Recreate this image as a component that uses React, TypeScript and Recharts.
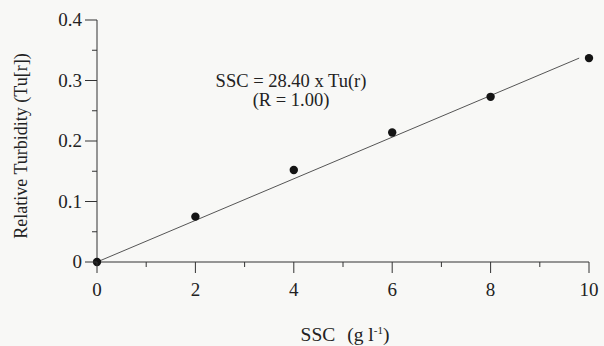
import { ScatterChart, Scatter, XAxis, YAxis } from 'recharts';

// calibration samples: suspended sediment concentration vs relative turbidity
const ssc = [0, 2, 4, 6, 8, 10];
const turbidity = [0, 0.075, 0.152, 0.214, 0.273, 0.337];

// fitted regression line end points
const fitSsc = [0, 9.8];
const fitTurbidity = [0, 0.337];

const xTicks = [0, 1, 2, 3, 4, 5, 6, 7, 8, 9, 10];
const yTicks = [0, 0.05, 0.1, 0.15, 0.2, 0.25, 0.3, 0.35, 0.4];
const yTickLabels: Record<string, string> = { '0': '0', '0.1': '0.1', '0.2': '0.2', '0.3': '0.3', '0.4': '0.4' };

const points = ssc.map((x, i) => ({ x, y: turbidity[i] }));
const fit = fitSsc.map((x, i) => ({ x, y: fitTurbidity[i] }));

const FONT = '"Liberation Serif", "Times New Roman", serif';
const INK = '#222';

const XTick = (props: any) => {
  const { x, y, payload } = props;
  const major = payload.value % 2 === 0;
  return (
    <g>
      <line x1={x} y1={y} x2={x} y2={y + (major ? 11 : 5)} stroke="#333" strokeWidth={1} />
      {major && (
        <text x={x} y={y + 34} textAnchor="middle" fontFamily={FONT} fontSize={19} fill={INK}>
          {payload.value}
        </text>
      )}
    </g>
  );
};

const YTick = (props: any) => {
  const { x, y, payload } = props;
  const key = String(Math.round(payload.value * 100) / 100);
  const label = yTickLabels[key];
  return (
    <g>
      <line x1={x} y1={y} x2={x - (label ? 12 : 5)} y2={y} stroke="#333" strokeWidth={1} />
      {label && (
        <text x={x - 15} y={y + 6} textAnchor="end" fontFamily={FONT} fontSize={19} fill={INK}>
          {label}
        </text>
      )}
    </g>
  );
};

const Dot = (props: any) => <circle cx={props.cx} cy={props.cy} r={4.2} fill="#141414" />;

export default function App() {
  return (
    <div style={{ position: 'absolute', left: 0, top: 0, width: 604, height: 346, background: '#f8f8f6' }}>
      <ScatterChart width={604} height={346} margin={{ top: 20, right: 15, bottom: 0, left: 0 }}>
        <XAxis
          type="number"
          dataKey="x"
          domain={[0, 10]}
          ticks={xTicks}
          interval={0}
          tickSize={0}
          tickMargin={0}
          tickLine={false}
          tick={<XTick />}
          height={84}
          axisLine={{ stroke: '#333' }}
        />
        <YAxis
          type="number"
          dataKey="y"
          domain={[0, 0.4]}
          ticks={yTicks}
          interval={0}
          tickSize={0}
          tickMargin={0}
          tickLine={false}
          tick={<YTick />}
          width={97}
          axisLine={{ stroke: '#333' }}
        />
        <Scatter data={fit} line={{ stroke: '#555', strokeWidth: 1 }} shape={() => <g />} isAnimationActive={false} />
        <Scatter data={points} shape={<Dot />} isAnimationActive={false} />

        {/* regression equation */}
        <text x={291} y={87} textAnchor="middle" fontFamily={FONT} fontSize={18.5} fill={INK}>
          SSC = 28.40 x Tu(r)
        </text>
        <text x={291} y={106} textAnchor="middle" fontFamily={FONT} fontSize={18.5} fill={INK}>
          (R = 1.00)
        </text>
        <text x={345} y={341} textAnchor="middle" fontFamily={FONT} fontSize={19.5} fill={INK}>
          <tspan>SSC</tspan>
          <tspan dx={12}>(g l</tspan>
          <tspan fontSize={11} dy={-7}>-1</tspan>
          <tspan dy={7}>)</tspan>
        </text>
        <text
          x={27}
          y={146}
          transform="rotate(-90 27 146)"
          textAnchor="middle"
          fontFamily={FONT}
          fontSize={18}
          fill={INK}
        >
          Relative Turbidity (Tu[r])
        </text>
      </ScatterChart>
    </div>
  );
}
